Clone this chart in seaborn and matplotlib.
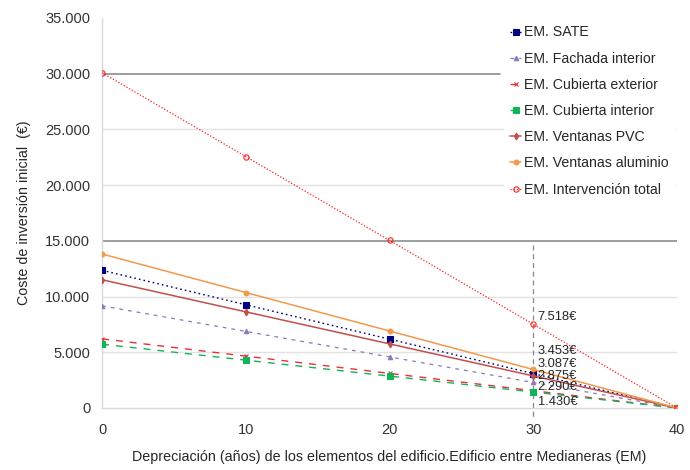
import matplotlib
matplotlib.use("Agg")
import matplotlib.pyplot as plt
import matplotlib.ticker as mticker
import pandas as pd
import seaborn as sns

years = [0, 10, 20, 30, 40]
series_names = [
    "EM. SATE",
    "EM. Fachada interior",
    "EM. Cubierta exterior",
    "EM. Cubierta interior",
    "EM. Ventanas PVC",
    "EM. Ventanas aluminio",
    "EM. Intervención total",
]
sate = [12348, 9261, 6174, 3087, 0]
fachada_interior = [9160, 6870, 4580, 2290, 0]
cubierta_exterior = [6200, 4650, 3100, 1550, 0]
cubierta_interior = [5720, 4290, 2860, 1430, 0]
ventanas_pvc = [11500, 8625, 5750, 2875, 0]
ventanas_aluminio = [13812, 10359, 6906, 3453, 0]
intervencion_total = [30072, 22554, 15036, 7518, 0]
values = [sate, fachada_interior, cubierta_exterior, cubierta_interior,
          ventanas_pvc, ventanas_aluminio, intervencion_total]

labels_at_30 = ["7.518€", "3.453€", "3.087€", "2.875€", "2.290€", "1.430€"]
label_y = [8200, 5100, 3950, 2870, 1880, 540]

styles = {
    "EM. SATE": dict(color="#00007F", marker="s", ls=(0, (1.2, 2.2)), ms=3.8, lw=1.0),
    "EM. Fachada interior": dict(color="#8D78BA", marker="^", ls=(0, (3, 4)), ms=3.2, lw=0.9),
    "EM. Cubierta exterior": dict(color="#E8303A", marker="x", ls=(0, (5, 5)), ms=3.5, lw=1.0),
    "EM. Cubierta interior": dict(color="#12B35A", marker="s", ls=(0, (5, 5)), ms=3.8, lw=1.0),
    "EM. Ventanas PVC": dict(color="#C0504D", marker="d", ls="-", ms=3.5, lw=1.1),
    "EM. Ventanas aluminio": dict(color="#F2994A", marker="o", ls="-", ms=3.5, lw=1.1),
    "EM. Intervención total": dict(color="#FF2020", marker="o", ls=(0, (1, 1.5)), ms=3.8,
                                   lw=0.9, mfc="none"),
}

rows = []
for name, vals in zip(series_names, values):
    for x, v in zip(years, vals):
        rows.append({"serie": name, "anios": x, "coste": v})
df = pd.DataFrame(rows)

sns.set_style("white")
plt.rcParams["font.family"] = ["Liberation Sans", "DejaVu Sans"]

fig, ax = plt.subplots(figsize=(6.9, 4.7), dpi=100)
fig.subplots_adjust(left=0.148, right=0.981, bottom=0.132, top=0.962)

# light grid
for y in [5000, 10000, 20000, 25000]:
    ax.axhline(y, color="#E3E3E3", lw=1, zorder=0)
# darker reference lines
ax.plot([0, 27.7], [30000, 30000], color="#8C8C8C", lw=1.2, zorder=1)
ax.axhline(15000, color="#8C8C8C", lw=1.2, zorder=1)
ax.plot([30, 30], [14600, -800], color="#888888", lw=0.9, ls=(0, (4, 3)),
        zorder=1, clip_on=False)

for name in series_names:
    st = styles[name]
    sub = df[df["serie"] == name]
    sns.lineplot(data=sub, x="anios", y="coste", ax=ax, label=name,
                 color=st["color"], linestyle=st["ls"], lw=st["lw"],
                 marker=st["marker"], markersize=st["ms"],
                 markerfacecolor=st.get("mfc", st["color"]),
                 markeredgecolor=st["color"], markeredgewidth=0.8, zorder=3)

for txt, y in zip(labels_at_30, label_y):
    ax.text(30.3, y, txt, fontsize=9.3, va="center", ha="left", color="#262626", zorder=5)

ax.set_xlim(0, 40)
ax.set_ylim(0, 35000)
ax.set_xticks([0, 10, 20, 30, 40])
ax.set_yticks(range(0, 35001, 5000))
ax.yaxis.set_major_formatter(mticker.FuncFormatter(lambda v, p: f"{int(v):,}".replace(",", ".")))
ax.tick_params(axis="y", labelsize=10.5, length=0, colors="#333333", pad=8.5)
ax.tick_params(axis="x", labelsize=10.5, length=0, colors="#333333", pad=11)

ax.set_xlabel("Depreciación (años) de los elementos del edificio.Edificio entre Medianeras (EM)",
              fontsize=10.3, labelpad=9, color="#262626")
ax.set_ylabel("Coste de inversión inicial  (€)", fontsize=10.3, labelpad=10, color="#262626")

for side in ["top", "right"]:
    ax.spines[side].set_visible(False)
for side in ["left", "bottom"]:
    ax.spines[side].set_color("#D9D9D9")
    ax.spines[side].set_linewidth(1)

leg = ax.legend(loc="upper left", bbox_to_anchor=(0.70, 0.995), frameon=True,
                facecolor="white", edgecolor="white", framealpha=1,
                fontsize=10.2, handlelength=0.8, handletextpad=0.2,
                labelspacing=0.86, borderaxespad=0)
leg.set_zorder(4)

fig.savefig("out.png", dpi=100)
